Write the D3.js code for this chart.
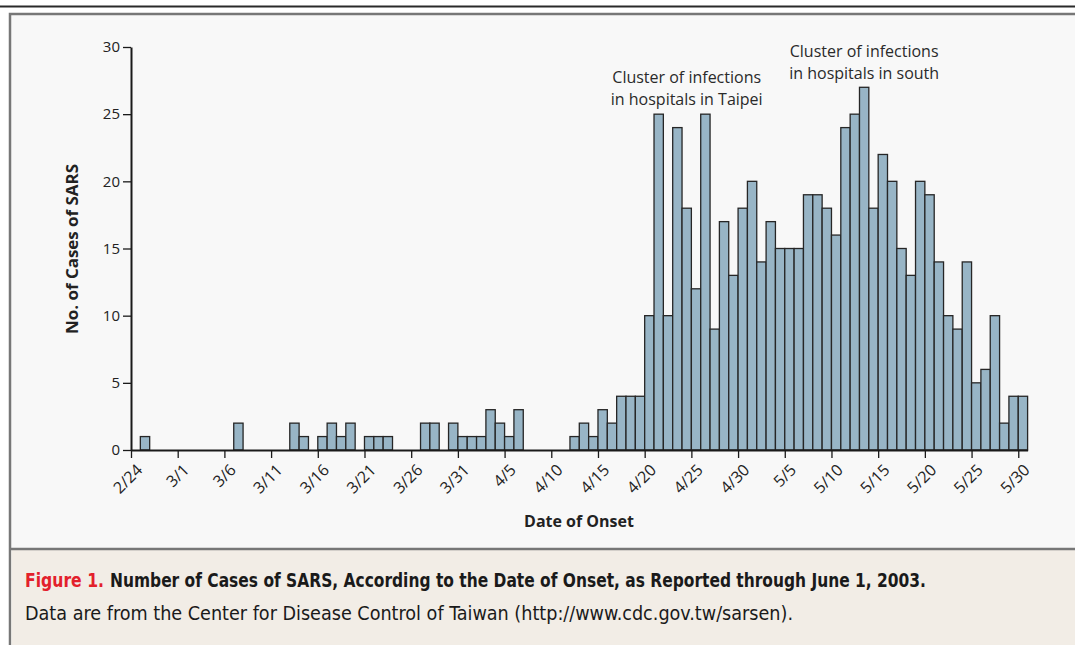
<!DOCTYPE html>
<html>
<head>
<meta charset="UTF-8">
<title>SARS cases by date of onset</title>
<script src="https://d3js.org/d3.v7.min.js"></script>
<style>
  body { margin: 0; background: #fff; }
  svg { display: block; }
</style>
</head>
<body>
<svg id="chart" width="1075" height="645"></svg>
<script>
// one bar per day, 2/24 through 5/30 (2003)
const startDay = new Date(2003, 1, 24);
const endDay = new Date(2003, 4, 31);

// cases per day of onset
const febCases = [0, 1, 0, 0, 0];                         // 2/24 - 2/28
const marCases = [0, 0, 0, 0, 0, 0, 2, 0, 0, 0,
                  0, 0, 2, 1, 0, 1, 2, 1, 2, 0,
                  1, 1, 1, 0, 0, 0, 2, 2, 0, 2, 1];       // 3/1 - 3/31
const aprCases = [1, 1, 3, 2, 1, 3, 0, 0, 0, 0,
                  0, 1, 2, 1, 3, 2, 4, 4, 4, 10,
                  25, 10, 24, 18, 12, 25, 9, 17, 13, 18]; // 4/1 - 4/30
const mayCases = [20, 14, 17, 15, 15, 15, 19, 19, 18, 16,
                  24, 25, 27, 18, 22, 20, 15, 13, 20, 19,
                  14, 10, 9, 14, 5, 6, 10, 2, 4, 4];      // 5/1 - 5/30

const yTicks = [0, 5, 10, 15, 20, 25, 30];

// labels sit centred over the bar of these days
const annotations = [
  { day: new Date(2003, 3, 24), lines: ["Cluster of infections", "in hospitals in Taipei"], y: 83 },
  { day: new Date(2003, 4, 13), lines: ["Cluster of infections", "in hospitals in south"], y: 57 }
];

const days = d3.timeDay.range(startDay, endDay);
const cases = [].concat(febCases, marCases, aprCases, mayCases);
const data = days.map((d, i) => ({ day: d, value: cases[i] }));
const tickDays = days.filter((d, i) => i % 5 === 0);
const fmt = d3.timeFormat("%-m/%-d");

const font = "'Open Sans', 'Noto Sans', sans-serif";
const capFont = "'Liberation Sans Narrow', 'DejaVu Sans Condensed', 'Open Sans', sans-serif";

const svg = d3.select("#chart");

// frame
svg.append("rect").attr("x", 0).attr("y", 5.5).attr("width", 1075).attr("height", 2).attr("fill", "#2a2a2a");
svg.append("rect").attr("x", 10).attr("y", 14).attr("width", 1080).attr("height", 640)
  .attr("fill", "#f8f8f8").attr("stroke", "#777").attr("stroke-width", 2.5);
svg.append("rect").attr("x", 11.5).attr("y", 549).attr("width", 1070).attr("height", 100)
  .attr("fill", "#f2ede6");
svg.append("line").attr("x1", 11).attr("x2", 1075).attr("y1", 549).attr("y2", 549)
  .attr("stroke", "#777").attr("stroke-width", 2.5);

const x = d3.scaleTime().domain([startDay, endDay]).range([131, 1027.6]);
const y = d3.scaleLinear().domain([0, 30]).range([450, 47]);
const mid = d => (x(d) + x(d3.timeDay.offset(d, 1))) / 2;

const g = svg.append("g");

g.selectAll("rect.bar")
  .data(data.filter(d => d.value > 0))
  .join("rect")
  .attr("class", "bar")
  .attr("x", d => x(d.day))
  .attr("y", d => y(d.value))
  .attr("width", d => x(d3.timeDay.offset(d.day, 1)) - x(d.day))
  .attr("height", d => y(0) - y(d.value))
  .attr("fill", "#98b5c6")
  .attr("stroke", "#262626")
  .attr("stroke-width", 1.3);

const yAxis = g.append("g")
  .attr("transform", "translate(131,0)")
  .call(d3.axisLeft(y).tickValues(yTicks).tickSize(8).tickSizeOuter(0).tickPadding(3));
yAxis.select(".domain").attr("stroke", "#1a1a1a").attr("stroke-width", 2);
yAxis.selectAll(".tick line").attr("stroke", "#1a1a1a").attr("stroke-width", 1.3);
yAxis.selectAll("text").attr("font-family", font)
  .attr("font-size", 15).attr("fill", "#222");

const xAxis = g.append("g")
  .attr("transform", "translate(0,450)")
  .call(d3.axisBottom(x).tickValues(tickDays).tickFormat(fmt).tickSize(8).tickSizeOuter(0));
xAxis.select(".domain").attr("stroke", "#1a1a1a").attr("stroke-width", 2);
xAxis.selectAll(".tick line").attr("stroke", "#1a1a1a").attr("stroke-width", 1.3);
xAxis.selectAll("text")
  .attr("font-family", font)
  .attr("font-size", 16).attr("fill", "#222")
  .attr("text-anchor", "end")
  .attr("dy", null).attr("y", null)
  .attr("transform", "translate(12,21) rotate(-45)");

// axis titles
svg.append("text")
  .attr("transform", "translate(78,249) rotate(-90)")
  .attr("text-anchor", "middle")
  .attr("font-family", font)
  .attr("font-weight", "bold").attr("font-size", 16).attr("fill", "#222")
  .attr("textLength", 170).attr("lengthAdjust", "spacingAndGlyphs")
  .text("No. of Cases of SARS");

svg.append("text")
  .attr("x", 579).attr("y", 527)
  .attr("text-anchor", "middle")
  .attr("font-family", font)
  .attr("font-weight", "bold").attr("font-size", 16).attr("fill", "#222")
  .text("Date of Onset");

// annotations
annotations.forEach(a => {
  const t = svg.append("text")
    .attr("text-anchor", "middle")
    .attr("font-family", font)
    .attr("font-size", 16).attr("fill", "#2a2a2a");
  a.lines.forEach((line, i) => {
    t.append("tspan").attr("x", mid(a.day)).attr("y", a.y + i * 22).text(line);
  });
});

// caption
svg.append("text")
  .attr("x", 25).attr("y", 587)
  .attr("font-family", capFont)
  .attr("font-weight", "bold").attr("font-size", 20).attr("fill", "#e3202b")
  .attr("textLength", 79).attr("lengthAdjust", "spacingAndGlyphs")
  .text("Figure 1.");
svg.append("text")
  .attr("x", 110).attr("y", 587)
  .attr("font-family", capFont)
  .attr("font-weight", "bold").attr("font-size", 20).attr("fill", "#1a1a1a")
  .attr("textLength", 816).attr("lengthAdjust", "spacingAndGlyphs")
  .text("Number of Cases of SARS, According to the Date of Onset, as Reported through June 1, 2003.");

svg.append("text")
  .attr("x", 25).attr("y", 620)
  .attr("font-family", capFont)
  .attr("font-size", 20).attr("fill", "#1a1a1a")
  .attr("textLength", 768).attr("lengthAdjust", "spacingAndGlyphs")
  .text("Data are from the Center for Disease Control of Taiwan (http://www.cdc.gov.tw/sarsen).");
</script>
</body>
</html>
